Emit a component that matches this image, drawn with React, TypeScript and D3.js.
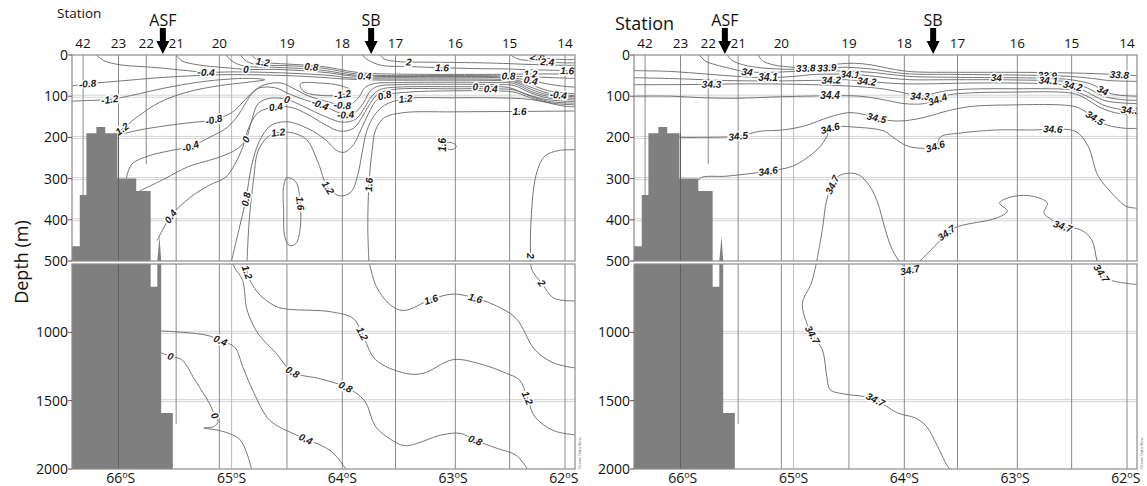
import React from 'react';
import * as d3 from 'd3';

type Pt = [number, number];
type Contour = { v: string; pts: Pt[]; lab: number[]; closed?: boolean };

// stations along the section, latitude (deg S) and depth of the cast line (m)
const stations = ['42', '23', '22', '21', '20', '19', '18', '17', '16', '15', '14'];
const stationLat = [66.34, 66.02, 65.77, 65.5, 65.11, 64.5, 64.0, 63.52, 62.98, 62.49, 61.99];
const stationBottom = [2000, 2000, 265, 1670, 2000, 2000, 2000, 2000, 2000, 2000, 2000];
const fronts = ['ASF', 'SB'];
const frontLat = [65.62, 63.74];
const latTicks = [66, 65, 64, 63, 62];
const depthTicks = [0, 100, 200, 300, 400, 500, 1000, 1500, 2000];
const gridDepths = [100, 200, 300, 400, 1000, 1500];

// bottom profile (lat, depth)
const bathymetry: Pt[] = [
  [66.44, 2000], [66.44, 464], [66.37, 464], [66.37, 340], [66.31, 340], [66.31, 190],
  [66.22, 190], [66.22, 175], [66.14, 175], [66.14, 190], [66.03, 190], [66.03, 300],
  [65.86, 300], [65.86, 330], [65.73, 330], [65.73, 666], [65.67, 666], [65.67, 500],
  [65.65, 440], [65.635, 500], [65.635, 1590], [65.53, 1590], [65.53, 2000],
];

// potential temperature isolines (deg C)
const tempContours: Contour[] = [
  { v: '2.8', pts: [[62.3, 0], [62.24, 5], [62.12, 9], [62.0, 11], [61.9, 11]], lab: [1] },
  { v: '2.4', pts: [[62.48, 0], [62.42, 9], [62.3, 14], [62.15, 17], [62.0, 19], [61.9, 19]], lab: [3] },
  { v: '2', pts: [[63.66, 0], [63.62, 10], [63.5, 16], [63.4, 17], [63.0, 18], [62.6, 20], [62.4, 22], [62.2, 24], [62.0, 25], [61.9, 25]], lab: [3] },
  { v: '1.6', pts: [[63.82, 0], [63.77, 12], [63.65, 25], [63.4, 28], [63.1, 31], [62.8, 33], [62.5, 34], [62.3, 36], [62.1, 37], [61.97, 38], [61.9, 38]], lab: [4, 9] },
  { v: '1.2', pts: [[64.82, 0], [64.78, 10], [64.72, 17], [64.5, 22], [64.3, 25], [64.1, 31], [63.95, 39], [63.8, 44], [63.6, 46], [63.2, 47], [62.8, 47], [62.5, 47], [62.3, 46], [62.1, 46], [61.9, 46]], lab: [2, 12] },
  { v: '0.8', pts: [[64.92, 0], [64.88, 12], [64.8, 22], [64.5, 26], [64.28, 29], [64.1, 35], [63.95, 43], [63.8, 48], [63.6, 50], [63.2, 50], [62.8, 50], [62.5, 51], [62.4, 52], [62.2, 54], [62.0, 56], [61.9, 57]], lab: [4, 11] },
  { v: '0.4', pts: [[65.05, 0], [65.0, 14], [64.9, 26], [64.6, 30], [64.3, 34], [64.1, 40], [63.95, 47], [63.8, 51], [63.6, 52], [63.0, 52], [62.6, 53], [62.45, 56], [62.3, 62], [62.15, 70], [62.0, 76], [61.9, 78]], lab: [7, 12] },
  { v: '0', pts: [[65.5, 0], [65.45, 14], [65.3, 24], [65.0, 32], [64.87, 35], [64.6, 35], [64.3, 39], [64.1, 44], [63.95, 50], [63.8, 53], [63.6, 54], [63.0, 54], [62.6, 55], [62.45, 59], [62.3, 72], [62.15, 86], [62.0, 92], [61.9, 94]], lab: [4] },
  { v: '-0.4', pts: [[66.22, 0], [66.15, 14], [66.0, 24], [65.7, 30], [65.4, 38], [65.23, 42], [65.0, 41], [64.7, 42], [64.4, 45], [64.1, 50], [63.95, 55], [63.8, 57], [63.6, 58], [63.0, 58], [62.6, 59], [62.45, 62], [62.3, 78], [62.15, 92], [62.05, 97], [61.9, 98]], lab: [5, 18] },
  { v: '-0.8', pts: [[66.44, 75], [66.3, 70], [66.0, 63], [65.7, 56], [65.4, 51], [65.1, 48], [64.8, 48], [64.5, 50], [64.2, 54], [64.0, 58], [63.8, 60], [63.6, 61], [63.0, 61], [62.6, 62], [62.45, 65], [62.3, 83], [62.15, 96], [62.0, 100], [61.9, 101]], lab: [1] },
  { v: '-1.2', pts: [[66.44, 112], [66.25, 110], [66.1, 108], [65.9, 98], [65.6, 80], [65.3, 66], [65.0, 58], [64.8, 57], [64.7, 60], [64.85, 66], [65.1, 74], [65.4, 90], [65.65, 115], [65.85, 150], [66.0, 182], [66.06, 190]], lab: [2, 14] },
  { v: '-1.2', pts: [[64.38, 70], [64.2, 68], [64.02, 74], [63.92, 86], [64.0, 96], [64.2, 98], [64.35, 88]], lab: [4], closed: true },
  { v: '-0.8', pts: [[66.03, 195], [65.85, 183], [65.6, 172], [65.4, 165], [65.16, 157], [65.0, 140], [64.9, 115], [64.8, 88], [64.7, 72], [64.55, 68], [64.45, 80], [64.3, 100], [64.15, 112], [64.0, 122], [63.9, 116], [63.84, 98], [63.8, 80], [63.72, 70], [63.5, 67], [63.0, 66], [62.6, 67], [62.45, 69], [62.3, 88], [62.15, 100], [62.0, 104], [61.9, 105]], lab: [4, 13] },
  { v: '-0.4', pts: [[65.95, 300], [65.9, 265], [65.75, 245], [65.55, 232], [65.37, 222], [65.2, 200], [65.05, 178], [64.95, 150], [64.88, 120], [64.82, 95], [64.75, 80], [64.6, 80], [64.5, 92], [64.35, 108], [64.2, 120], [64.05, 138], [63.97, 145], [63.87, 136], [63.8, 112], [63.75, 88], [63.68, 76], [63.5, 72], [63.0, 71], [62.6, 72], [62.45, 74], [62.3, 92], [62.15, 104], [62.0, 108], [61.9, 109]], lab: [4, 14, 16] },
  { v: '0', pts: [[65.83, 330], [65.6, 300], [65.4, 272], [65.1, 247], [64.95, 228], [64.87, 205], [64.82, 160], [64.76, 118], [64.65, 105], [64.5, 108], [64.35, 125], [64.15, 150], [64.0, 163], [63.88, 156], [63.8, 128], [63.74, 102], [63.66, 84], [63.5, 78], [63.0, 77], [62.8, 77], [62.5, 79], [62.35, 94], [62.2, 106], [62.0, 112], [61.9, 113]], lab: [5, 9, 19] },
  { v: '0.4', pts: [[65.67, 450], [65.55, 392], [65.37, 345], [65.2, 316], [65.05, 296], [64.97, 265], [64.9, 225], [64.85, 180], [64.76, 140], [64.6, 126], [64.45, 128], [64.3, 146], [64.15, 170], [64.02, 185], [63.9, 178], [63.82, 150], [63.75, 118], [63.68, 95], [63.55, 84], [63.0, 82], [62.66, 82], [62.45, 85], [62.3, 100], [62.15, 112], [62.0, 116], [61.9, 117]], lab: [1, 9, 20] },
  { v: '0.8', pts: [[65.0, 500], [64.93, 420], [64.87, 350], [64.82, 270], [64.75, 210], [64.65, 172], [64.5, 162], [64.3, 180], [64.15, 206], [64.05, 232], [63.98, 236], [63.9, 218], [63.83, 180], [63.76, 140], [63.7, 112], [63.62, 98], [63.4, 90], [63.0, 87], [62.7, 87], [62.45, 90], [62.3, 104], [62.1, 117], [61.9, 121]], lab: [2, 15] },
  { v: '1.2', pts: [[64.86, 500], [64.84, 400], [64.8, 300], [64.76, 232], [64.66, 196], [64.58, 188], [64.45, 189], [64.32, 206], [64.22, 260], [64.13, 322], [64.02, 342], [63.92, 332], [63.86, 290], [63.82, 235], [63.78, 185], [63.72, 150], [63.62, 122], [63.43, 106], [63.0, 104], [62.6, 104], [62.3, 108], [62.0, 124], [61.9, 126]], lab: [5, 9, 17] },
  { v: '1.6', pts: [[64.5, 298], [64.42, 308], [64.38, 360], [64.38, 420], [64.42, 458], [64.48, 462], [64.52, 440], [64.53, 380], [64.53, 320]], lab: [2], closed: true },
  { v: '1.6', pts: [[63.1, 218], [63.02, 212], [62.97, 222], [63.02, 230]], lab: [0], closed: true },
  { v: '1.6', pts: [[63.76, 500], [63.77, 420], [63.76, 315], [63.73, 230], [63.7, 182], [63.62, 152], [63.45, 140], [63.0, 138], [62.4, 137], [61.9, 136]], lab: [2, 8] },
  { v: '2', pts: [[61.9, 230], [62.05, 232], [62.17, 245], [62.25, 290], [62.3, 420], [62.3, 488], [62.29, 540], [62.2, 640], [62.09, 750], [61.9, 770]], lab: [5, 7] },
  { v: '0', pts: [[65.635, 1150], [65.55, 1175], [65.45, 1200], [65.33, 1350], [65.2, 1520], [65.15, 1610], [65.12, 1650], [65.16, 1690], [65.25, 1700], [65.1, 1720], [64.93, 1780], [64.86, 1890], [64.82, 2000]], lab: [1, 5] },
  { v: '0.4', pts: [[65.635, 990], [65.23, 1020], [65.1, 1060], [64.97, 1110], [64.9, 1250], [64.8, 1440], [64.66, 1640], [64.5, 1720], [64.33, 1780], [64.1, 1870], [63.97, 2000]], lab: [2, 8] },
  { v: '0.8', pts: [[65.0, 500], [64.97, 530], [64.9, 620], [64.86, 836], [64.76, 1010], [64.6, 1150], [64.45, 1290], [64.2, 1340], [63.97, 1400], [63.8, 1500], [63.7, 1690], [63.55, 1790], [63.43, 1830], [63.1, 1750], [62.93, 1740], [62.8, 1790], [62.6, 1850], [62.43, 1900], [62.33, 2000]], lab: [6, 8, 15] },
  { v: '1.2', pts: [[64.86, 500], [64.86, 560], [64.76, 712], [64.6, 810], [64.5, 830], [64.1, 850], [63.9, 900], [63.82, 1010], [63.7, 1200], [63.43, 1300], [63.27, 1300], [63.0, 1200], [62.76, 1230], [62.52, 1300], [62.4, 1350], [62.33, 1480], [62.26, 1620], [62.09, 1720], [61.9, 1750]], lab: [1, 7, 15] },
  { v: '1.6', pts: [[63.76, 500], [63.69, 670], [63.55, 810], [63.44, 840], [63.2, 760], [63.0, 720], [62.8, 750], [62.6, 810], [62.43, 900], [62.26, 1130], [62.09, 1225], [61.9, 1260]], lab: [4, 6] },
];

// salinity isolines
const salContours: Contour[] = [
  { v: '33.8', pts: [[65.32, 0], [65.28, 14], [65.18, 24], [65.0, 30], [64.89, 32], [64.75, 28], [64.6, 22], [64.45, 20], [64.3, 24], [64.15, 32], [64.02, 38], [63.9, 41], [63.5, 42], [63.0, 42], [62.6, 43], [62.3, 45], [62.06, 48], [61.9, 50]], lab: [4, 16] },
  { v: '33.9', pts: [[65.6, 0], [65.55, 14], [65.45, 24], [65.3, 31], [65.0, 35], [64.85, 34], [64.7, 31], [64.5, 30], [64.3, 34], [64.1, 42], [63.95, 46], [63.6, 47], [63.17, 48], [62.9, 49], [62.71, 50], [62.5, 52], [62.3, 57], [62.15, 62], [61.9, 64]], lab: [6, 14] },
  { v: '34', pts: [[65.85, 0], [65.8, 14], [65.7, 24], [65.55, 34], [65.42, 41], [65.2, 42], [65.0, 40], [64.7, 39], [64.5, 39], [64.3, 42], [64.1, 48], [63.95, 52], [63.6, 54], [63.17, 55], [62.8, 56], [62.5, 60], [62.3, 72], [62.21, 86], [62.1, 96], [61.9, 100]], lab: [4, 13, 17] },
  { v: '34.1', pts: [[66.44, 38], [66.1, 40], [65.8, 46], [65.5, 52], [65.23, 55], [65.0, 52], [64.8, 47], [64.49, 47], [64.3, 51], [64.1, 57], [63.95, 60], [63.6, 60], [63.2, 60], [62.9, 61], [62.7, 62], [62.5, 66], [62.35, 80], [62.2, 100], [62.05, 108], [61.9, 110]], lab: [4, 7, 14] },
  { v: '34.2', pts: [[66.44, 55], [66.0, 58], [65.6, 62], [65.2, 63], [64.9, 62], [64.66, 61], [64.5, 60], [64.34, 64], [64.15, 68], [64.0, 70], [63.8, 70], [63.4, 68], [63.0, 68], [62.7, 70], [62.48, 75], [62.35, 90], [62.2, 110], [62.05, 116], [61.9, 118]], lab: [5, 7, 14] },
  { v: '34.3', pts: [[66.44, 72], [66.1, 72], [65.74, 71], [65.4, 70], [65.0, 71], [64.7, 73], [64.4, 77], [64.2, 82], [64.0, 92], [63.86, 100], [63.75, 94], [63.6, 86], [63.3, 82], [63.0, 82], [62.7, 82], [62.5, 85], [62.35, 100], [62.2, 122], [62.05, 132], [61.96, 134], [61.9, 135]], lab: [2, 9, 19] },
  { v: '34.4', pts: [[66.44, 100], [66.1, 100], [65.8, 104], [65.5, 105], [65.2, 102], [64.9, 100], [64.67, 99], [64.4, 100], [64.2, 108], [64.0, 118], [63.82, 118], [63.7, 108], [63.6, 97], [63.4, 92], [63.0, 90], [62.6, 90], [62.45, 95], [62.35, 108], [62.25, 125], [62.1, 140], [61.9, 146]], lab: [6, 11] },
  { v: '34.5', pts: [[66.03, 200], [65.85, 200], [65.5, 197], [65.3, 185], [65.1, 182], [64.9, 172], [64.67, 150], [64.5, 140], [64.35, 145], [64.25, 153], [64.1, 160], [63.95, 158], [63.8, 150], [63.6, 135], [63.4, 125], [63.0, 121], [62.6, 121], [62.45, 126], [62.35, 140], [62.28, 153], [62.17, 170], [62.0, 178], [61.9, 178]], lab: [2, 9, 19] },
  { v: '34.6', pts: [[65.88, 330], [65.85, 300], [65.6, 294], [65.23, 282], [65.01, 270], [64.86, 246], [64.76, 222], [64.7, 198], [64.67, 178], [64.4, 176], [64.18, 185], [64.1, 200], [63.96, 222], [63.72, 222], [63.67, 198], [63.51, 190], [63.17, 182], [62.84, 182], [62.66, 180], [62.45, 186], [62.34, 222], [62.25, 294], [62.1, 343], [62.0, 367], [61.9, 372]], lab: [3, 8, 13, 18] },
  { v: '34.7', pts: [[64.79, 500], [64.74, 424], [64.7, 351], [64.65, 315], [64.6, 295], [64.51, 287], [64.41, 291], [64.31, 319], [64.24, 359], [64.18, 416], [64.11, 472], [64.02, 505], [63.95, 545], [63.86, 500], [63.67, 448], [63.62, 432], [63.51, 416], [63.17, 396], [63.07, 379], [63.14, 359], [63.01, 343], [62.84, 343], [62.71, 359], [62.74, 383], [62.67, 400], [62.57, 416], [62.41, 424], [62.31, 448], [62.26, 500], [62.22, 568], [62.14, 617], [62.0, 641], [61.9, 650]], lab: [3, 12, 15, 25, 29] },
  { v: '34.7', pts: [[64.79, 500], [64.84, 641], [64.92, 787], [64.88, 933], [64.83, 1018], [64.74, 1128], [64.7, 1322], [64.67, 1420], [64.55, 1450], [64.36, 1470], [64.26, 1493], [64.06, 1590], [63.9, 1627], [63.8, 1688], [63.7, 1834], [63.6, 1991], [63.58, 2000]], lab: [4, 10] },
];

const TOP = 55;
const MID_A = 261;
const MID_B = 264;
const BOTTOM = 469;
const FONT = '"Open Sans", "DejaVu Sans", sans-serif';

function Panel({ x0, x1, contours, id, first }: { x0: number; x1: number; contours: Contour[]; id: string; first: boolean }) {
  const x = d3.scaleLinear().domain([66.44, 61.9]).range([x0, x1]);
  const y = d3.scaleLinear().domain([0, 500, 500.01, 2000]).range([TOP, MID_A, MID_B, BOTTOM]);
  const line = d3.line<Pt>().x(d => x(d[0])).y(d => y(d[1])).curve(d3.curveCatmullRom.alpha(0.5));
  const loop = d3.line<Pt>().x(d => x(d[0])).y(d => y(d[1])).curve(d3.curveCatmullRomClosed.alpha(0.5));
  const area = d3.line<Pt>().x(d => x(d[0])).y(d => y(d[1]));

  const labels: { t: string; px: number; py: number; ang: number }[] = [];
  contours.forEach(c => {
    c.lab.forEach(i => {
      const n = c.pts.length;
      const a = c.closed ? c.pts[(i - 1 + n) % n] : c.pts[Math.max(0, i - 1)];
      const b = c.closed ? c.pts[(i + 1) % n] : c.pts[Math.min(n - 1, i + 1)];
      let ang = (Math.atan2(y(b[1]) - y(a[1]), x(b[0]) - x(a[0])) * 180) / Math.PI;
      if (ang > 90) ang -= 180;
      if (ang < -90) ang += 180;
      labels.push({ t: c.v, px: x(c.pts[i][0]), py: y(c.pts[i][1]), ang });
    });
  });

  return (
    <g>
      <defs>
        <clipPath id={id}>
          <rect x={x0} y={TOP} width={x1 - x0} height={BOTTOM - TOP} />
        </clipPath>
      </defs>
      <rect x={x0} y={TOP} width={x1 - x0} height={BOTTOM - TOP} fill="#fff" />
      {/* horizontal grid */}
      {gridDepths.map(d => (
        <g key={d}>
          <line x1={x0} x2={x1} y1={y(d) - 1} y2={y(d) - 1} stroke="#d4d4d4" />
          <line x1={x0} x2={x1} y1={y(d) + 1} y2={y(d) + 1} stroke="#d4d4d4" />
        </g>
      ))}
      {/* 65S meridian */}
      <line x1={x(65)} x2={x(65)} y1={TOP} y2={BOTTOM} stroke="#c2c2c2" strokeWidth={1.2} />
      {/* station casts */}
      {stationLat.map((s, i) => (
        <line key={i} x1={x(s)} x2={x(s)} y1={TOP} y2={y(stationBottom[i])} stroke="#8a8a8a" strokeWidth={1} />
      ))}
      <g clipPath={`url(#${id})`}>
        {contours.map((c, i) => (
          <path key={i} d={(c.closed ? loop : line)(c.pts) || ''} fill="none" stroke="#666" strokeWidth={0.9} />
        ))}
        {labels.map((l, i) => (
          <text
            key={i}
            transform={`translate(${l.px},${l.py}) rotate(${l.ang})`}
            textAnchor="middle"
            dominantBaseline="central"
            fontFamily='"Liberation Sans", Arial, sans-serif'
            fontWeight="bold"
            fontStyle="italic"
            fontSize={10}
            fill="#1a1a1a"
            stroke="#fff"
            strokeWidth={3}
            paintOrder="stroke"
          >
            {l.t}
          </text>
        ))}
        <path d={(area(bathymetry) || '') + 'Z'} fill="#7f7f7f" stroke="none" />
        <line x1={x(stationLat[1])} x2={x(stationLat[1])} y1={y(190)} y2={BOTTOM} stroke="#5e5e5e" strokeWidth={1} />
      </g>
      {/* frames and section gap */}
      <rect x={x0} y={MID_A} width={x1 - x0} height={MID_B - MID_A} fill="#fff" />
      <rect x={x0} y={TOP} width={x1 - x0} height={MID_A - TOP} fill="none" stroke="#8c8c8c" strokeWidth={1.2} />
      <rect x={x0} y={MID_B} width={x1 - x0} height={BOTTOM - MID_B} fill="none" stroke="#8c8c8c" strokeWidth={1.2} />
      {/* depth axis */}
      {depthTicks.map(d => (
        <g key={d}>
          <line x1={x0 - 4} x2={x0} y1={d === 500 ? MID_A : y(d)} y2={d === 500 ? MID_A : y(d)} stroke="#555" />
          <text x={x0 - 4} y={d === 500 ? MID_A : y(d)} dy="0.36em" textAnchor="end" fontFamily={FONT} fontSize={14} fill="#111">
            {d}
          </text>
        </g>
      ))}
      {/* latitude axis */}
      {latTicks.map(l => (
        <text key={l} x={x(l)} y={483} textAnchor="middle" fontFamily={FONT} fontSize={14} fill="#111">
          {l}
          <tspan fontSize={9} dy={-5}>o</tspan>
          <tspan dy={5}>S</tspan>
        </text>
      ))}
      {/* station numbers */}
      {stations.map((s, i) => (
        <text key={s} x={x(stationLat[i])} y={48} textAnchor="middle" fontFamily={FONT} fontSize={13.5} fill="#111">
          {s}
        </text>
      ))}
      <text x={first ? x0 - 15 : x0 - 19} y={first ? 18 : 30} fontFamily={FONT} fontSize={first ? 13.5 : 18} fill="#111">
        Station
      </text>
      {/* front markers */}
      {fronts.map((f, i) => {
        const cx = x(frontLat[i]);
        return (
          <g key={f}>
            <text x={cx} y={25.5} textAnchor="middle" fontFamily={FONT} fontSize={16} fill="#111">
              {f}
            </text>
            <path
              d={`M${cx - 3},28 L${cx + 3},28 L${cx + 3},41 L${cx + 6.5},41 L${cx},54 L${cx - 6.5},41 L${cx - 3},41 Z`}
              fill="#000"
            />
          </g>
        );
      })}
      <text transform={`translate(${x1 + 6},${BOTTOM}) rotate(-90)`} fontFamily={FONT} fontSize={4} fill="#666">
        Ocean Data View
      </text>
      {first && (
        <text transform={`translate(28,${(TOP + BOTTOM) / 2}) rotate(-90)`} textAnchor="middle" fontFamily={FONT} fontSize={18} fill="#111">
          Depth (m)
        </text>
      )}
    </g>
  );
}

export default function App() {
  return (
    <svg width={1147} height={486} style={{ position: 'absolute', left: 0, top: 0, background: '#fff' }}>
      <Panel x0={72} x1={575} contours={tempContours} id="clip-t" first={true} />
      <Panel x0={634} x1={1137} contours={salContours} id="clip-s" first={false} />
    </svg>
  );
}
